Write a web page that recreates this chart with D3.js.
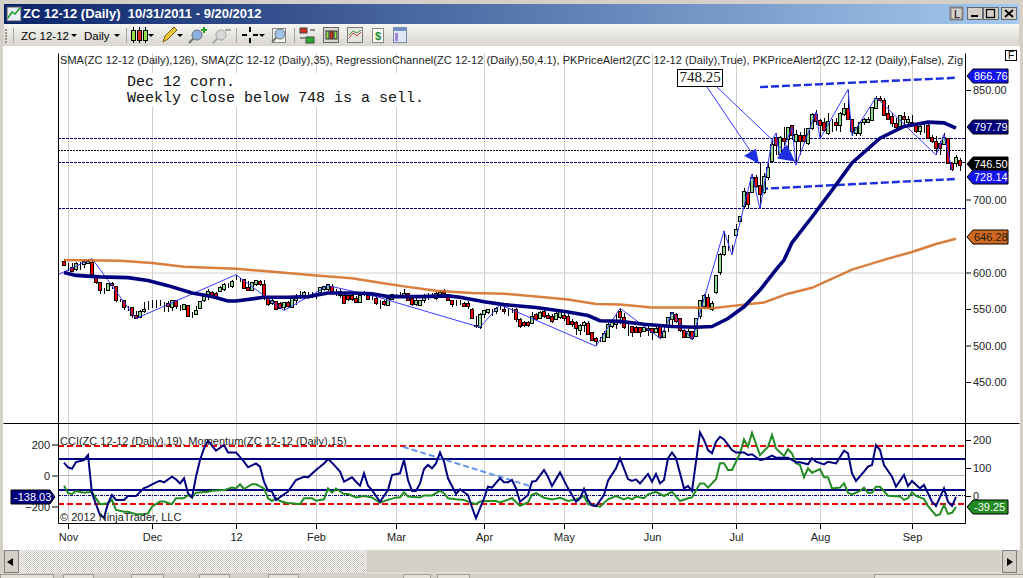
<!DOCTYPE html>
<html>
<head>
<meta charset="utf-8">
<script src="https://d3js.org/d3.v7.min.js"></script>
<style>
html, body { margin: 0; padding: 0; background: #d4d0c8; overflow: hidden; }
svg { display: block; font-family: "Liberation Sans", Arial, sans-serif; }
.axis text { font-size: 11px; fill: #222; font-family: "Liberation Sans", Arial, sans-serif; }
.axis line { stroke: #000; }
.axis path { display: none; }
</style>
</head>
<body>
<div id="vis1"></div>
<script>
const FRAME_WIDTH = 1023;
const FRAME_HEIGHT = 578;

// daily bars
const opens = [615,606,607,604,613,611,612,614,595,586,576,576,585,581,562,561,552,552,541,539,
  547,552,555,556,557,556,557,552,561,553,549,555,543,543,551,561,567,572,571,574,
  577,584,581,593,591,590,579,576,584,588,584,565,558,560,557,552,559,552,561,568,
  567,568,569,570,572,577,577,581,574,574,569,568,569,565,559,572,568,565,565,557,
  560,555,563,569,571,569,571,564,556,555,561,568,569,565,570,574,568,562,558,557,
  558,557,550,528,524,542,545,547,546,553,549,547,547,549,536,532,531,530,543,537,
  546,541,540,536,539,541,540,533,532,521,527,530,518,510,506,505,511,526,529,547,
  539,526,526,524,524,519,523,523,518,526,511,526,536,543,537,521,511,519,512,540,
  554,566,550,572,600,624,634,634,651,670,691,709,710,730,719,709,730,752,785,761,
  784,782,801,780,787,787,777,797,816,808,805,790,805,805,801,816,825,809,790,790,
  805,806,808,825,839,836,818,814,804,800,814,805,805,802,793,800,801,785,780,777,
  775,783,750,750,753];
const highs = [619,613,613,615,615,617,618,618,597,586,579,586,587,582,564,562,554,553,547,549,
  559,561,562,562,563,559,561,562,562,556,556,556,546,554,561,570,577,574,573,581,
  586,586,590,597,593,591,588,587,590,590,590,568,564,561,559,559,561,565,570,574,
  574,573,573,572,580,582,584,584,577,577,572,570,570,568,570,574,573,570,568,562,
  563,566,571,571,573,577,571,565,565,563,570,572,572,573,576,577,571,563,562,563,
  559,561,552,540,545,549,550,550,553,556,554,552,552,552,537,533,533,546,545,547,
  548,545,543,547,549,547,543,536,533,529,533,533,519,511,511,520,531,536,543,550,
  545,529,527,527,526,527,527,524,526,527,526,539,546,545,538,522,522,520,538,562,
  570,570,561,596,627,657,651,638,666,677,716,710,735,734,751,736,750,782,791,787,
  800,800,802,795,793,798,798,818,823,810,811,818,810,811,820,832,850,810,800,807,
  811,813,827,842,842,839,830,818,811,816,820,814,816,805,802,807,807,789,787,780,
  791,784,752,761,757];
const lows = [609,602,601,602,603,606,611,596,584,570,570,574,577,560,559,549,547,538,536,538,
  545,549,552,552,554,546,546,547,550,547,549,539,538,543,550,559,563,565,564,573,
  574,579,579,590,587,577,575,575,581,582,563,554,556,549,550,549,551,551,556,564,
  564,564,565,564,570,574,574,572,568,565,557,561,561,558,558,568,562,562,555,550,
  554,555,562,565,568,565,561,554,554,554,558,563,565,563,568,567,561,553,554,555,
  553,550,536,524,523,538,543,540,543,549,543,541,545,532,524,525,526,529,533,536,
  538,536,531,535,536,533,528,526,515,515,518,515,506,499,505,505,510,524,523,529,
  522,513,511,517,511,518,513,508,517,509,510,518,527,531,519,510,510,508,511,536,
  550,550,547,571,597,622,629,625,647,669,688,688,709,716,687,707,727,751,761,757,
  768,764,782,748,761,777,775,795,802,784,793,789,793,794,793,814,809,787,787,787,
  802,805,807,824,834,814,809,800,795,798,802,800,801,791,789,791,783,777,761,761,
  774,749,739,744,739];
const closes = [610,606,602,612,613,615,615,597,586,576,576,585,582,561,562,552,552,541,537,546,
  550,552,555,556,557,556,553,561,554,553,556,540,543,548,560,567,574,568,567,580,
  584,584,588,593,591,578,576,586,589,584,565,556,562,550,551,559,553,564,565,568,
  573,568,569,570,579,581,583,574,574,568,558,563,563,559,569,572,563,565,557,557,
  556,565,570,569,571,571,562,556,562,562,568,568,569,571,573,571,562,556,558,557,
  554,553,537,526,543,548,549,547,551,553,546,547,547,535,526,527,527,540,535,545,
  540,537,533,544,547,537,529,529,523,527,531,515,507,505,506,517,529,531,533,538,
  524,526,518,518,518,524,520,518,523,511,519,538,545,533,520,511,519,510,537,561,
  569,552,557,596,625,635,634,634,659,677,711,693,730,718,707,732,744,775,774,785,
  780,798,787,789,780,780,797,816,807,802,795,807,805,801,818,824,810,793,798,805,
  809,810,826,839,836,815,810,804,798,815,809,810,802,793,800,800,784,780,770,770,
  785,750,741,758,746.5];

// moving averages, read at the bends of each line
const sma126Bars = [0,14,22,30,43,50,63,72,79,85,93,102,110,118,126,133,139,147,157,162,170,175,181,187,197,206,212,218,223];
const sma126Values = [617,616,613,608,605,602,596,592,586,581,575,572,571,567,563,557,556,552,552,551,556,559,571,579,604,619,628,639,646.28];
const sma35Bars = [0,3,9,16,21,26,32,37,41,43,50,56,61,66,72,77,81,89,96,99,105,110,118,126,131,134,139,145,152,158,162,166,170,174,178,180,182,187,193,197,204,210,216,220,223];
const sma35Values = [600,596,594,593,589,582,572,567,561,561,566,566,567,572,572,571,567,567,568,566,560,556,552,546,541,534,533,529,526,525,526,537,553,576,604,617,641,676,720,750,784,800,806,805,797.79];

// zigzag pivots
const zigzagBars = [-1.5,7,18,43,55,66,78,104,109,133,139,149,152,157,165,167,172,174,177,178,179,182,183,188,189,196,197,203,218,220,222];
const zigzagValues = [597,619,537,597,548,582,567,525,556,499,551,510,545,508,657,624,735,687,781,791,757,799,747,820,783,851,788,840,761,789,740];

// regression channel ends
const channelBars = [174,223];
const channelUpper = [854,866.76];
const channelLower = [714.5,728.14];

// price alert levels
const alertLevels = [784,751,688];
const alertMiddle = 768;

// lower panel
const cciBars = [0,1,2,3,5,6,7,9,10,11,12,13,15,16,18,20,21,23,24,25,27,28,29,30,31,32,33,34,35,36,38,40,41,43,45,46,48,49,50,51,52,53,56,58,60,61,63,65,66,67,69,70,72,73,74,75,76,77,79,81,82,84,85,86,87,88,89,90,91,92,93,94,95,96,98,99,101,102,103,105,106,107,109,110,111,112,113,114,116,117,118,120,121,122,124,126,128,129,130,131,132,133,135,136,138,139,141,142,143,144,146,147,148,149,150,151,152,153,155,156,157,159,160,161,162,163,164,165,167,168,170,171,172,174,175,177,178,181,183,184,186,187,188,190,191,193,195,196,197,198,200,201,202,203,204,205,207,208,210,211,212,214,215,217,218,220,221,222,223];
const cciValues = [83,53,44,87,100,132,-115,-255,-272,-180,-126,-158,-158,-132,-132,-81,-72,-44,-35,-44,-8,-25,-51,-18,-115,-141,-8,100,175,225,160,197,149,149,89,53,78,57,-40,-98,-104,-158,-104,-29,-8,-12,35,78,106,83,25,-40,-12,-40,-66,14,-66,-94,-169,-94,3,14,100,-29,-100,-100,-51,42,68,46,78,149,89,-18,-119,-89,-126,-205,-276,-147,-72,-78,-18,-44,-44,-29,-83,-169,-126,-40,-35,35,-8,-68,20,-83,-169,-147,-87,-158,-192,-197,-126,-33,46,111,-23,-35,-25,-51,10,-40,10,-51,-29,111,149,111,-83,-68,-100,278,229,164,143,218,250,233,164,149,149,132,137,100,104,128,115,115,85,85,72,111,89,72,89,78,160,143,14,-35,25,57,68,197,164,68,-8,-72,3,-68,-35,-83,-61,-169,-197,-83,-169,-197,-138.03];
const momentumBars = [0,1,2,3,5,7,8,9,11,12,13,15,16,18,20,21,22,24,25,27,28,30,31,32,33,36,37,40,42,43,44,45,47,48,50,51,52,53,54,56,57,59,60,62,63,65,66,67,68,70,71,73,75,77,79,81,83,84,85,86,89,90,92,94,95,96,98,100,101,103,104,106,108,109,112,114,116,117,118,120,122,124,126,128,130,131,134,136,138,140,141,142,143,145,146,148,150,152,154,156,157,159,160,161,163,164,165,166,167,169,170,171,172,174,176,177,178,180,181,182,183,184,185,186,187,189,190,191,192,194,195,196,197,199,200,201,202,203,204,206,209,210,211,212,213,215,216,218,219,220,221,222,223];
const momentumValues = [37,10,7,18,12,15,-8,-29,-26,-14,-50,-56,-56,-65,-65,-62,-38,-20,-20,-29,-8,-8,4,-5,12,15,19,21,30,27,42,25,42,42,27,-8,-18,-8,-18,-26,-26,-29,-8,-8,-17,-12,27,12,27,7,7,-5,0,-5,-24,-14,-5,-5,13,-2,-5,2,2,18,10,-8,-12,-14,-20,-29,-20,-18,-18,-23,-8,-35,-23,4,10,-6,-12,-6,-18,-12,0,-29,-38,-12,0,-12,-6,-12,-2,-8,6,15,0,15,-18,-8,-5,45,45,30,60,117,117,93,93,152,202,176,226,146,176,218,170,143,167,152,117,111,67,99,83,96,67,67,27,30,45,12,6,18,30,12,12,33,33,1,-2,-14,-8,13,0,-11,-36,-70,-65,-32,-64,-60,-39.25];

// value axis and time axis labels
const priceTicks = [850,700,600,550,500,450];
const cciTicks = [200,0,-200];
const momentumTicks = [200,100,0];
const monthBars = [1,22,43,63,83,105,125,147,168,189,212];
const monthLabels = ["Nov","Dec","12","Feb","Mar","Apr","May","Jun","Jul","Aug","Sep"];
const priceTags = [866.76,797.79,746.50,728.14,646.28];
const priceTagColors = ["#1414f0","#00007f","#000000","#1414f0","#d2691e"];

const PANE = {left: 58, right: 965, top: 53, split: 423, bottom: 523};

const X_SCALE = d3.scaleLinear().domain([0, 224]).range([64, 960]);
const Y_PRICE = d3.scaleLinear().domain([450, 850]).range([382, 90]);
const Y_CCI = d3.scaleLinear().domain([-200, 200]).range([506.5, 444.5]);
const Y_MOM = d3.scaleLinear().domain([0, 200]).range([496, 440]);

const FRAME = d3.select("#vis1")
    .append("svg")
    .attr("width", FRAME_WIDTH)
    .attr("height", FRAME_HEIGHT)
    .attr("viewBox", "0 0 1023 578");

const defs = FRAME.append("defs");

const titleGrad = defs.append("linearGradient").attr("id", "titleGrad");
titleGrad.append("stop").attr("offset", "0").attr("stop-color", "#0a246a");
titleGrad.append("stop").attr("offset", "1").attr("stop-color", "#a6caf0");

const toolGrad = defs.append("linearGradient").attr("id", "toolGrad")
    .attr("x1", 0).attr("x2", 0).attr("y1", 0).attr("y2", 1);
toolGrad.append("stop").attr("offset", "0").attr("stop-color", "#f7f6f3");
toolGrad.append("stop").attr("offset", "1").attr("stop-color", "#d8d5ce");

const dither = defs.append("pattern").attr("id", "dither")
    .attr("width", 2).attr("height", 2).attr("patternUnits", "userSpaceOnUse");
dither.append("rect").attr("width", 2).attr("height", 2).attr("fill", "#ffffff");
dither.append("rect").attr("width", 1).attr("height", 1).attr("fill", "#c9c6be");
dither.append("rect").attr("x", 1).attr("y", 1).attr("width", 1).attr("height", 1).attr("fill", "#c9c6be");

defs.append("clipPath").attr("id", "upperClip").append("rect")
    .attr("x", PANE.left).attr("y", PANE.top)
    .attr("width", PANE.right - PANE.left).attr("height", PANE.split - PANE.top);
defs.append("clipPath").attr("id", "lowerClip").append("rect")
    .attr("x", PANE.left).attr("y", PANE.split)
    .attr("width", PANE.right - PANE.left).attr("height", PANE.bottom - PANE.split);

// window chrome
function box(parent, x, y, w, h, fill, stroke) {
    return parent.append("rect").attr("x", x).attr("y", y).attr("width", w).attr("height", h)
        .attr("fill", fill).attr("stroke", stroke || "none");
}
box(FRAME, 0, 0, FRAME_WIDTH, FRAME_HEIGHT, "#d4d0c8");
box(FRAME, 4, 4, 1015, 20, "url(#titleGrad)");
box(FRAME, 4, 24, 1015, 22, "url(#toolGrad)");
box(FRAME, 3, 46, 1017, 504, "#ffffff");

// title bar
const chartIcon = FRAME.append("g");
box(chartIcon, 7, 7, 14, 14, "#e8eef8", "#555");
chartIcon.append("path").attr("d", "M8 18 L12 12 L15 14 L20 8").attr("fill", "none").attr("stroke", "#1a9a1a").attr("stroke-width", 1.5);
FRAME.append("text").attr("x", 23).attr("y", 18)
    .attr("fill", "#fff").attr("font-weight", "bold").attr("font-size", 13)
    .style("white-space", "pre")
    .text("ZC 12-12 (Daily)  10/31/2011 - 9/20/2012");

box(FRAME, 950.5, 7.5, 12, 12, "#d4d0c8", "#808080").attr("stroke-width", 2);
FRAME.append("text").attr("x", 954).attr("y", 17.5).attr("font-size", 11).attr("fill", "#000").text("L");
[967, 983, 1001].forEach((x) => {
    box(FRAME, x + 0.5, 7.5, 15, 12, "#d4d0c8", "#404040").attr("stroke-width", 0.7);
});
box(FRAME, 971, 15, 7, 2, "#000");
box(FRAME, 986.5, 9.5, 8, 8, "none", "#000").attr("stroke-width", 1.3);
FRAME.append("path").attr("d", "M1005 10 L1013 17 M1013 10 L1005 17").attr("stroke", "#000").attr("stroke-width", 1.8);

// toolbar
[13, 126, 236, 294].forEach((x) => {
    FRAME.append("line").attr("x1", x + 0.5).attr("x2", x + 0.5).attr("y1", 28).attr("y2", 43).attr("stroke", "#a8a59e");
});
d3.range(5).forEach((i) => box(FRAME, 5, 29 + i * 3, 2, 2, "#9a978f"));
FRAME.append("text").attr("x", 21).attr("y", 40).attr("font-size", 11.5).attr("fill", "#000").text("ZC 12-12");
FRAME.append("text").attr("x", 84).attr("y", 40).attr("font-size", 11.5).attr("fill", "#000").text("Daily");
[74, 117, 151, 180, 262].forEach((x) => {
    FRAME.append("path").attr("d", `M${x - 3} 34 L${x + 3} 34 L${x} 37 Z`).attr("fill", "#000");
});
// candle icon
[[133, "#8fe04a"], [139, "#e03020"], [145, "#8fe04a"]].forEach((d) => {
    FRAME.append("line").attr("x1", d[0] + 0.5).attr("x2", d[0] + 0.5).attr("y1", 27).attr("y2", 43).attr("stroke", "#000");
    box(FRAME, d[0] - 1.5, 30.5, 4, 10, d[1], "#000");
});
// pencil
FRAME.append("path").attr("d", "M163 42 L165 36 L174 27 L177 30 L168 39 Z").attr("fill", "#f2c832").attr("stroke", "#7a5a10");
// zoom in, zoom out, zoom box
function glass(cx, cy, fill, stroke) {
    FRAME.append("line").attr("x1", cx - 3).attr("y1", cy + 3).attr("x2", cx - 8).attr("y2", cy + 8)
        .attr("stroke", stroke).attr("stroke-width", 2);
    FRAME.append("circle").attr("cx", cx).attr("cy", cy).attr("r", 5).attr("fill", fill).attr("stroke", stroke);
}
glass(197, 35, "#8ab4e0", "#707070");
FRAME.append("path").attr("d", "M201 30 L207 30 M204 27 L204 33").attr("stroke", "#2aa020").attr("stroke-width", 2);
glass(221, 35, "#d8d8d8", "#a8a8a8");
FRAME.append("path").attr("d", "M225 30 L231 30").attr("stroke", "#a8a8a8").attr("stroke-width", 2);
FRAME.append("path").attr("d", "M242 35 L247 35 M253 35 L258 35 M250 27 L250 32 M250 38 L250 43").attr("stroke", "#000").attr("stroke-width", 2);
box(FRAME, 272.5, 28.5, 13, 14, "#f4f4f0", "#888");
glass(280, 34, "#a0c4e8", "#707070");
// study and template icons
box(FRAME, 300, 28, 7, 5, "#d03020", "#444");
box(FRAME, 306, 37, 8, 6, "#2aa830", "#444");
box(FRAME, 300, 37, 5, 2, "#888");
box(FRAME, 310, 29, 5, 2, "#888");
box(FRAME, 323.5, 27.5, 15, 15, "#d8d8d0", "#666");
[327, 331, 335].forEach((x, i) => {
    box(FRAME, x - 1, 31, 3, 8, i === 1 ? "#e03020" : "#8fe04a", "#333");
});
box(FRAME, 347.5, 27.5, 15, 15, "#e4e4de", "#777");
FRAME.append("path").attr("d", "M349 38 L353 33 L357 36 L361 32").attr("fill", "none").attr("stroke", "#d04040");
FRAME.append("path").attr("d", "M349 35 L353 31 L357 33 L361 30").attr("fill", "none").attr("stroke", "#40a040");
box(FRAME, 372.5, 28.5, 11, 14, "#fafaf6", "#888");
FRAME.append("text").attr("x", 375).attr("y", 40).attr("font-size", 11).attr("font-weight", "bold").attr("fill", "#1a8a30").text("$");
box(FRAME, 393.5, 27.5, 13, 15, "#dfe8f6", "#7a8ab0");
box(FRAME, 394, 28, 12, 3, "#7090c8");
box(FRAME, 395, 33, 3, 8, "#a080d8");

// grid
const gridLayer = FRAME.append("g");
gridLayer.selectAll("line")
    .data(monthBars)
    .enter()
    .append("line")
    .attr("x1", (d) => X_SCALE(d) + 0.5)
    .attr("x2", (d) => X_SCALE(d) + 0.5)
    .attr("y1", PANE.top)
    .attr("y2", PANE.bottom)
    .attr("stroke", "#d4d0c8");
gridLayer.append("line")
    .attr("x1", PANE.left).attr("x2", PANE.right)
    .attr("y1", Y_PRICE(600) + 0.5).attr("y2", Y_PRICE(600) + 0.5)
    .attr("stroke", "#d4d0c8");
gridLayer.append("line")
    .attr("x1", PANE.left).attr("x2", PANE.right)
    .attr("y1", Y_CCI(0)).attr("y2", Y_CCI(0))
    .attr("stroke", "#b4b4b0");

// upper pane
const upper = FRAME.append("g").attr("clip-path", "url(#upperClip)");

upper.selectAll(".alert")
    .data(alertLevels)
    .enter()
    .append("line")
    .attr("class", "alert")
    .attr("x1", PANE.left).attr("x2", PANE.right)
    .attr("y1", (d) => Math.round(Y_PRICE(d)) + 0.5)
    .attr("y2", (d) => Math.round(Y_PRICE(d)) + 0.5)
    .attr("stroke", "#00007f")
    .attr("stroke-dasharray", "3,1");
upper.append("line")
    .attr("x1", PANE.left).attr("x2", PANE.right)
    .attr("y1", Math.round(Y_PRICE(alertMiddle)) + 0.5)
    .attr("y2", Math.round(Y_PRICE(alertMiddle)) + 0.5)
    .attr("stroke", "#000")
    .attr("stroke-dasharray", "2,1");

[channelUpper, channelLower].forEach((vals) => {
    upper.append("line")
        .attr("x1", X_SCALE(channelBars[0])).attr("x2", X_SCALE(channelBars[1]))
        .attr("y1", Y_PRICE(vals[0])).attr("y2", Y_PRICE(vals[1]))
        .attr("stroke", "#1c2ee0")
        .attr("stroke-width", 2.4)
        .attr("stroke-dasharray", "8,3");
});

// candles
const barIdx = d3.range(opens.length);
upper.selectAll(".wick")
    .data(barIdx)
    .enter()
    .append("line")
    .attr("class", "wick")
    .attr("x1", (i) => X_SCALE(i))
    .attr("x2", (i) => X_SCALE(i))
    .attr("y1", (i) => Y_PRICE(highs[i]))
    .attr("y2", (i) => Y_PRICE(lows[i]))
    .attr("stroke", "#000")
    .style("shape-rendering", "crispEdges");
upper.selectAll(".body")
    .data(barIdx)
    .enter()
    .append("rect")
    .attr("class", "body")
    .attr("x", (i) => X_SCALE(i) - 1.5)
    .attr("y", (i) => Y_PRICE(Math.max(opens[i], closes[i])))
    .attr("width", 3)
    .attr("height", (i) => Math.abs(Y_PRICE(opens[i]) - Y_PRICE(closes[i])))
    .attr("fill", (i) => closes[i] < opens[i] ? "#ff0000" : "#8fdc8f")
    .attr("stroke", "#000")
    .style("shape-rendering", "crispEdges");

const lineOf = (bars, vals, y) => d3.line()
    .x((d, i) => X_SCALE(bars[i]))
    .y((d, i) => y(vals[i]))(vals);

upper.append("path")
    .attr("d", lineOf(zigzagBars, zigzagValues, Y_PRICE))
    .attr("fill", "none").attr("stroke", "#3a3aff").attr("stroke-width", 1);
upper.append("path")
    .attr("d", lineOf(sma126Bars, sma126Values, Y_PRICE))
    .attr("fill", "none").attr("stroke", "#d2691e").attr("stroke-width", 2.5).attr("stroke-opacity", 0.85);
upper.append("path")
    .attr("d", lineOf(sma35Bars, sma35Values, Y_PRICE))
    .attr("fill", "none").attr("stroke", "#00007f").attr("stroke-width", 3.6);

// alert arrows
const alertArrows = [
    {from: [160.75, 854], to: [173.75, 749], head: [[-15, -8], [-3, -15]]},
    {from: [163.25, 854], to: [182.75, 752], head: [[-18, -3], [-8, -17]]}
];
alertArrows.forEach((a) => {
    const tx = X_SCALE(a.to[0]);
    const ty = Y_PRICE(a.to[1]);
    upper.append("line")
        .attr("x1", X_SCALE(a.from[0])).attr("y1", Y_PRICE(a.from[1]))
        .attr("x2", tx).attr("y2", ty)
        .attr("stroke", "#3a3aff");
    upper.append("polygon")
        .attr("points", [[tx, ty], [tx + a.head[0][0], ty + a.head[0][1]], [tx + a.head[1][0], ty + a.head[1][1]]].join(" "))
        .attr("fill", "#1c2ee0");
});
box(FRAME, 677.5, 69.5, 45, 17, "#fff", "#000");
FRAME.append("text").attr("x", 700).attr("y", 82).attr("text-anchor", "middle")
    .attr("font-family", "'Liberation Serif', serif").attr("font-size", 15).attr("fill", "#111").text("748.25");

// annotation covers the grid behind it
box(FRAME, 123, 73, 306, 34, "#fff");
["Dec 12 corn.", "Weekly close below 748 is a sell."].forEach((t, i) => {
    FRAME.append("text").attr("x", 127).attr("y", 86 + i * 16)
        .attr("font-family", "'Liberation Mono', monospace").attr("font-size", 15).attr("fill", "#111").text(t);
});

// lower pane
const lower = FRAME.append("g").attr("clip-path", "url(#lowerClip)");
[190, -184].forEach((v) => {
    lower.append("line")
        .attr("x1", PANE.left).attr("x2", PANE.right)
        .attr("y1", Y_CCI(v)).attr("y2", Y_CCI(v))
        .attr("stroke", "#f00000").attr("stroke-width", 2).attr("stroke-dasharray", "6,3");
});
[106, -94].forEach((v) => {
    lower.append("line")
        .attr("x1", PANE.left).attr("x2", PANE.right)
        .attr("y1", Y_CCI(v)).attr("y2", Y_CCI(v))
        .attr("stroke", "#00007f").attr("stroke-width", 2);
});
lower.append("line")
    .attr("x1", PANE.left).attr("x2", PANE.right)
    .attr("y1", Y_CCI(-129)).attr("y2", Y_CCI(-129))
    .attr("stroke", "#00007f").attr("stroke-dasharray", "3,1,1,1");
lower.append("line")
    .attr("x1", X_SCALE(84.75)).attr("y1", Y_CCI(185))
    .attr("x2", X_SCALE(117)).attr("y2", Y_CCI(-72))
    .attr("stroke", "#6495ed").attr("stroke-width", 2).attr("stroke-dasharray", "6,3");
lower.append("path")
    .attr("d", lineOf(momentumBars, momentumValues, Y_MOM))
    .attr("fill", "none").attr("stroke", "#228b22").attr("stroke-width", 2);
lower.append("path")
    .attr("d", lineOf(cciBars, cciValues, Y_CCI))
    .attr("fill", "none").attr("stroke", "#00007f").attr("stroke-width", 2);

// pane captions
FRAME.append("text").attr("x", 60).attr("y", 64).attr("font-size", 11).attr("fill", "#222")
    .attr("textLength", 903).attr("lengthAdjust", "spacing")
    .text("SMA(ZC 12-12 (Daily),126), SMA(ZC 12-12 (Daily),35), RegressionChannel(ZC 12-12 (Daily),50,4.1), PKPriceAlert2(ZC 12-12 (Daily),True), PKPriceAlert2(ZC 12-12 (Daily),False), Zig");
FRAME.append("text").attr("x", 60).attr("y", 445).attr("font-size", 11).attr("fill", "#222")
    .text("CCI(ZC 12-12 (Daily),19), Momentum(ZC 12-12 (Daily),15)");
FRAME.append("text").attr("x", 60).attr("y", 521).attr("font-size", 11).attr("fill", "#222")
    .text("\u00a9 2012 NinjaTrader, LLC");

// pane frame
[[PANE.left, PANE.top, PANE.left, PANE.bottom],
 [PANE.right, PANE.top, PANE.right, PANE.bottom],
 [PANE.left, PANE.bottom, PANE.right, PANE.bottom],
 [3, PANE.split, 1019, PANE.split]].forEach((d) => {
    FRAME.append("line")
        .attr("x1", d[0] + 0.5).attr("y1", d[1] + 0.5)
        .attr("x2", d[2] + 0.5).attr("y2", d[3] + 0.5)
        .attr("stroke", "#000");
});

// axes
FRAME.append("g").attr("class", "axis")
    .attr("transform", "translate(" + PANE.right + ",0)")
    .call(d3.axisRight(Y_PRICE).tickValues(priceTicks).tickFormat(d3.format(".2f")).tickSize(6).tickPadding(2));
FRAME.append("g").attr("class", "axis")
    .attr("transform", "translate(" + PANE.right + ",0)")
    .call(d3.axisRight(Y_MOM).tickValues(momentumTicks).tickSize(6).tickPadding(2));
FRAME.append("g").attr("class", "axis")
    .attr("transform", "translate(" + PANE.left + ",0)")
    .call(d3.axisLeft(Y_CCI).tickValues(cciTicks).tickSize(6).tickPadding(2));
FRAME.append("g").attr("class", "axis")
    .attr("transform", "translate(0," + PANE.bottom + ")")
    .call(d3.axisBottom(X_SCALE).tickValues(monthBars)
        .tickFormat((d, i) => monthLabels[i]).tickSize(6).tickPadding(4));

// last-value tags
function rightTag(y, text, fill, textFill) {
    y = Math.round(y);
    FRAME.append("path")
        .attr("d", `M967 ${y} L973 ${y - 7} L1008 ${y - 7} L1008 ${y + 7} L973 ${y + 7} Z`)
        .attr("fill", fill).attr("stroke", "#000");
    FRAME.append("text").attr("x", 974).attr("y", y + 4)
        .attr("font-size", 11).attr("fill", textFill).text(text);
}
priceTags.forEach((p, i) => {
    rightTag(Y_PRICE(p) - 1.5, d3.format(".2f")(p), priceTagColors[i], i === 4 ? "#1a1a1a" : "#fff");
});
rightTag(Y_MOM(-39.25), "-39.25", "#228b22", "#fff");
const cciTagY = Math.round(Y_CCI(-138.03));
FRAME.append("path")
    .attr("d", `M11 ${cciTagY - 7} L50 ${cciTagY - 7} L55 ${cciTagY} L50 ${cciTagY + 7} L11 ${cciTagY + 7} Z`)
    .attr("fill", "#00007f").attr("stroke", "#000");
FRAME.append("text").attr("x", 14).attr("y", cciTagY + 4)
    .attr("font-size", 11).attr("fill", "#fff").text("-138.03");

// F button
box(FRAME, 1005.5, 50.5, 11, 10, "#fff", "#000");
FRAME.append("text").attr("x", 1008).attr("y", 59).attr("font-size", 10).attr("fill", "#000").text("F");

// scroll bar
box(FRAME, 4, 550, 1014, 23, "#d4d0c8");
box(FRAME, 18, 550, 348, 23, "url(#dither)");
box(FRAME, 366, 550, 636, 23, "#d4d0c8", "#eeeae2");
box(FRAME, 4.5, 550.5, 14, 22, "#d4d0c8", "#808080");
box(FRAME, 1002.5, 550.5, 14, 22, "#d4d0c8", "#808080");
FRAME.append("path").attr("d", "M7 562 L13 558 L13 566 Z").attr("fill", "#000");
FRAME.append("path").attr("d", "M1013 562 L1007 558 L1007 566 Z").attr("fill", "#000");

// tab strip
[[0, 53], [63, 30], [131, 32], [199, 30], [268, 30], [403, 27], [437, 32], [874, 149]].forEach((d) => {
    box(FRAME, d[0] + 0.5, 574.5, d[1], 8, "#e4e1da", "#a09d96");
});
</script>
</body>
</html>
